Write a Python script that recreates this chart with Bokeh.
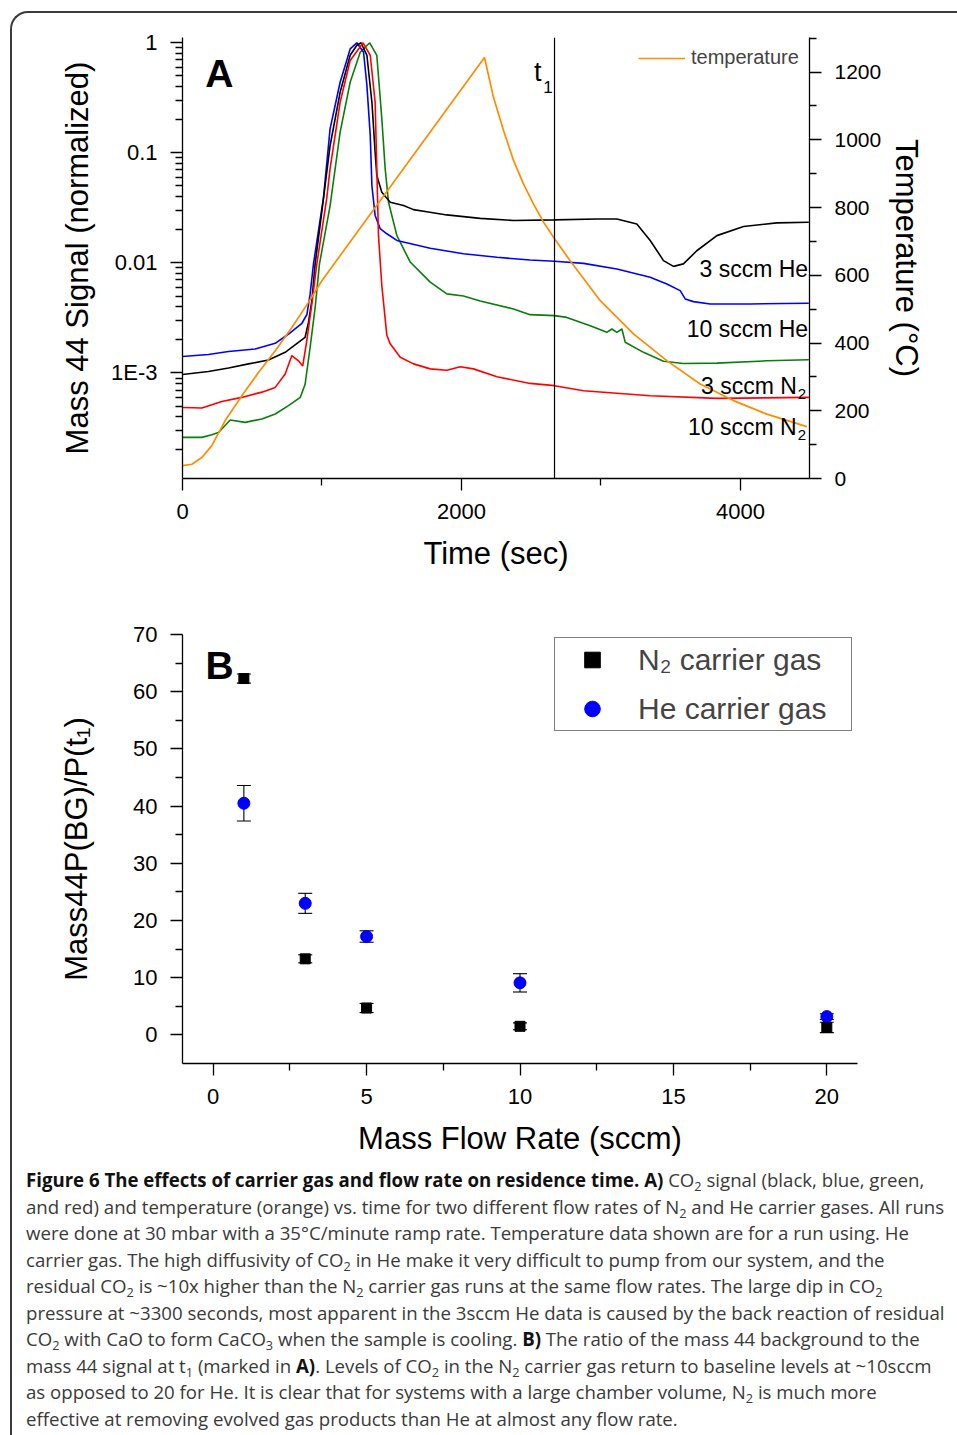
from bokeh.plotting import figure
from bokeh.models import (Range1d, LinearScale, LinearAxis, FixedTicker, Span, Label,
                          Legend, LegendItem, Whisker, TeeHead, ColumnDataSource, Div)
from bokeh.layouts import column
from bokeh.embed import file_html
from bokeh.resources import INLINE

# ---------------- Panel A data ----------------
# 3 sccm He (black)
time_he3 = [0, 186, 330, 473, 616, 736, 831, 879, 903, 927, 951, 1000, 1058, 1130, 1202, 1250,
            1280, 1322, 1358, 1381, 1393, 1429, 1489, 1584, 1656, 1751, 1895, 2134, 2373, 2667,
            2970, 3114, 3257, 3353, 3448, 3520, 3591, 3687, 3831, 4022, 4261, 4490]
sig_he3 = [9.7e-4, 1.03e-3, 1.11e-3, 1.21e-3, 1.31e-3, 1.54e-3, 1.90e-3, 2.11e-3, 2.88e-3, 4.5e-3,
           9.8e-3, 0.030, 0.116, 0.355, 0.77, 0.95, 1.0, 0.77, 0.288, 0.101, 0.0623, 0.0439,
           0.0356, 0.0332, 0.0305, 0.0292, 0.0273, 0.0254, 0.0243, 0.0246, 0.0251, 0.0251, 0.0226,
           0.016, 0.0105, 0.0093, 0.0098, 0.0129, 0.0177, 0.0214, 0.0231, 0.0234]
# 10 sccm He (blue)
time_he10 = [0, 186, 330, 521, 665, 760, 856, 892, 915, 939, 1011, 1058, 1130, 1202, 1250, 1298,
             1322, 1346, 1358, 1381, 1417, 1465, 1537, 1776, 2014, 2254, 2492, 2667, 2875, 3114,
             3353, 3472, 3568, 3604, 3663, 3783, 4070, 4490]
sig_he10 = [1.41e-3, 1.47e-3, 1.57e-3, 1.65e-3, 1.86e-3, 2.26e-3, 2.83e-3, 3.4e-3, 5.2e-3, 9.8e-3,
            0.0395, 0.165, 0.438, 0.88, 1.0, 0.82, 0.41, 0.144, 0.05, 0.027, 0.0205, 0.0184,
            0.016, 0.0136, 0.0121, 0.01125, 0.01064, 0.01035, 0.0099, 0.0088, 0.0074, 0.00644,
            0.0056, 0.00471, 0.00445, 0.00424, 0.00424, 0.0043]
# 3 sccm N2 (green)
time_n3 = [0, 139, 210, 258, 342, 449, 569, 665, 760, 844, 879, 915, 951, 982, 1058, 1130, 1202,
           1274, 1342, 1393, 1429, 1453, 1477, 1537, 1632, 1776, 1895, 2014, 2134, 2373, 2492,
           2667, 2755, 2923, 3042, 3078, 3114, 3150, 3174, 3305, 3448, 3591, 3831, 4189, 4490]
sig_n3 = [2.6e-4, 2.6e-4, 2.75e-4, 2.88e-4, 3.74e-4, 3.56e-4, 3.82e-4, 4.24e-4, 5.05e-4, 6.0e-4,
          7.9e-4, 1.71e-3, 3.95e-3, 9.8e-3, 0.033, 0.154, 0.438, 0.82, 1.0, 0.77, 0.204, 0.0717,
          0.0356, 0.0177, 0.0102, 0.0067, 0.00523, 0.0050, 0.0045, 0.00382, 0.00339, 0.00332,
          0.0032, 0.00269, 0.00234, 0.00251, 0.00234, 0.00251, 0.0019, 0.00154, 0.00128,
          0.00122, 0.00123, 0.00129, 0.00132]
# 10 sccm N2 (red)
time_n10 = [0, 139, 282, 425, 569, 665, 736, 784, 831, 862, 891, 927, 963, 1035, 1058, 1130, 1202,
            1295, 1346, 1381, 1393, 1405, 1429, 1465, 1489, 1561, 1656, 1776, 1895, 1991, 2086,
            2254, 2492, 2667, 2875, 3353, 3831, 4490]
sig_n10 = [4.86e-4, 4.8e-4, 5.5e-4, 6.0e-4, 6.7e-4, 7.4e-4, 9.8e-4, 1.44e-3, 1.29e-3, 1.16e-3,
           1.97e-3, 4.2e-3, 9.8e-3, 0.0395, 0.072, 0.288, 0.69, 1.0, 0.77, 0.288, 0.0717, 0.0177,
           0.0062, 0.0022, 0.00184, 0.00139, 0.00121, 0.00109, 0.00106, 0.00114, 0.00109,
           9.25e-4, 8.04e-4, 7.67e-4, 6.9e-4, 6.22e-4, 5.88e-4, 6.0e-4]
# temperature (orange, right axis)
temp_time = [0, 67, 139, 210, 306, 425, 545, 665, 784, 903, 999, 2165, 2229, 2301, 2373, 2444,
             2516, 2588, 2672, 2779, 2995, 3233, 3472, 3711, 3950, 4189, 4476]
temp_c = [38, 42, 62, 97, 171, 244, 313, 377, 446, 520, 584, 1243, 1126, 1028, 939, 870, 811,
          757, 705, 643, 525, 427, 348, 279, 230, 190, 153]
t1_time = 2667

log_major = [1e-3, 1e-2, 1e-1, 1]
log_labels = ["1E-3", "0.01", "0.1", "1"]
temp_major = [0, 200, 400, 600, 800, 1000, 1200]
time_major = [0, 2000, 4000]
time_minor = [1000, 3000]

# ---------------- Panel B data ----------------
flow_n2 = [1, 3, 5, 10, 20]
ratio_n2 = [62.3, 13.3, 4.7, 1.5, 1.3]
err_n2 = [0.8, 0.7, 0.8, 0.6, 0.9]
flow_he = [1, 3, 5, 10, 20]
ratio_he = [40.5, 23.0, 17.2, 9.1, 3.2]
err_he = [3.1, 1.75, 1.0, 1.6, 0.5]
flow_major = [0, 5, 10, 15, 20]
flow_minor = [2.5, 7.5, 12.5, 17.5]
ratio_major = [0, 10, 20, 30, 40, 50, 60, 70]
ratio_minor = [5, 15, 25, 35, 45, 55, 65]

FONT = "Liberation Sans"


def style_axis(ax, label_standoff=13, title_standoff=12, tick_px="22px", title_px="31px"):
    ax.axis_line_color = "black"
    ax.axis_line_width = 1.3
    ax.major_tick_line_color = "black"
    ax.major_tick_line_width = 1.3
    ax.minor_tick_line_color = "black"
    ax.minor_tick_line_width = 1.3
    ax.major_tick_in = 0
    ax.major_tick_out = 12
    ax.minor_tick_in = 0
    ax.minor_tick_out = 7
    ax.major_label_text_font = FONT
    ax.major_label_text_font_size = tick_px
    ax.major_label_text_color = "black"
    ax.major_label_standoff = label_standoff
    ax.axis_label_text_font = FONT
    ax.axis_label_text_font_size = title_px
    ax.axis_label_text_font_style = "normal"
    ax.axis_label_text_color = "black"
    ax.axis_label_standoff = title_standoff


# ================= Panel A =================
pA = figure(width=945, height=587, output_backend="svg", toolbar_location=None,
            x_range=Range1d(0, 4495), y_range=Range1d(1.10e-4, 1.117), y_axis_type="log",
            min_border_left=170, min_border_right=148, min_border_top=24, min_border_bottom=122,
            frame_align=False)
pA.outline_line_color = None
pA.grid.visible = False
pA.border_fill_alpha = 0
pA.background_fill_alpha = 0
pA.extra_y_ranges = {"temp": Range1d(0, 1302)}
pA.extra_y_scales = {"temp": LinearScale()}

minor_log = [k * 10.0 ** e for e in range(-4, 1) for k in range(2, 10)]
minor_log = [m for m in minor_log if 1.1e-4 < m < 1.117]
yA = pA.yaxis[0]
yA.ticker = FixedTicker(ticks=log_major, minor_ticks=minor_log)
yA.major_label_overrides = {v: s for v, s in zip(log_major, log_labels)}
yA.axis_label = "Mass 44 Signal (normalized)"
style_axis(yA, title_standoff=13)

xA = pA.xaxis[0]
xA.ticker = FixedTicker(ticks=time_major, minor_ticks=time_minor)
xA.axis_label = "Time (sec)"
style_axis(xA, title_standoff=14)

rA = LinearAxis(y_range_name="temp", axis_label="Temperature (\u00b0C)")
rA.ticker = FixedTicker(ticks=temp_major, minor_ticks=[t + 100 for t in temp_major])
style_axis(rA, tick_px="21px", title_standoff=5)
pA.add_layout(rA, "right")

pA.line(time_n3, sig_n3, line_color="#0a7d0a", line_width=1.6)
pA.line(time_he10, sig_he10, line_color="#0000ff", line_width=1.6)
pA.line(time_he3, sig_he3, line_color="black", line_width=1.6)
pA.line(time_n10, sig_n10, line_color="#ff0000", line_width=1.6)
r_temp = pA.line(temp_time, temp_c, y_range_name="temp", line_color="#ff8c00", line_width=1.7)

pA.add_layout(Span(location=t1_time, dimension="height", line_color="black", line_width=1.2))

legA = Legend(items=[LegendItem(label="temperature", renderers=[r_temp])],
              location=(456, 409), glyph_width=47, glyph_height=20, label_height=20,
              label_standoff=6, padding=0, margin=0, border_line_alpha=0,
              background_fill_alpha=0, label_text_font=FONT, label_text_font_size="20px")
pA.add_layout(legA)


def lab(p, x, y, text, size, align="left", bold=False):
    p.add_layout(Label(x=x, y=y, text=text, text_font=FONT, text_font_size=size,
                       text_align=align, text_baseline="alphabetic",
                       text_font_style="bold" if bold else "normal", text_color="black"))


lab(pA, 163, 0.526, "A", "39px", bold=True)
lab(pA, 2520, 0.54, "t", "27px")
lab(pA, 2586, 0.40, "1", "17px")
lab(pA, 4485, 0.00888, "3 sccm He", "23px", align="right")
lab(pA, 4485, 0.00253, "10 sccm He", "23px", align="right")
lab(pA, 4404, 7.67e-4, "3 sccm N", "23px", align="right")
lab(pA, 4410, 6.48e-4, "2", "15px")
lab(pA, 4403, 3.21e-4, "10 sccm N", "23px", align="right")
lab(pA, 4410, 2.75e-4, "2", "15px")

# ================= Panel B =================
pB = figure(width=945, height=560, output_backend="svg", toolbar_location=None,
            x_range=Range1d(-1, 21), y_range=Range1d(-5, 70),
            min_border_left=170, min_border_right=100, min_border_top=34, min_border_bottom=97,
            frame_align=False)
pB.outline_line_color = None
pB.grid.visible = False
pB.border_fill_alpha = 0
pB.background_fill_alpha = 0

xB = pB.xaxis[0]
xB.ticker = FixedTicker(ticks=flow_major, minor_ticks=flow_minor)
xB.axis_label = "Mass Flow Rate (sccm)"
style_axis(xB, title_standoff=14)
yB = pB.yaxis[0]
yB.ticker = FixedTicker(ticks=ratio_major, minor_ticks=ratio_minor)
yB.axis_label = "Mass44P(BG)/P(t\u2081)"
style_axis(yB, title_standoff=36)

r_he = pB.scatter(flow_he, ratio_he, marker="circle", size=12, color="#0000ff")
r_n2 = pB.scatter(flow_n2, ratio_n2, marker="square", size=10, color="black")

for fx, fy, fe in ((flow_he, ratio_he, err_he), (flow_n2, ratio_n2, err_n2)):
    src = ColumnDataSource(dict(x=fx, upper=[a + b for a, b in zip(fy, fe)],
                                lower=[a - b for a, b in zip(fy, fe)]))
    pB.add_layout(Whisker(source=src, base="x", upper="upper", lower="lower",
                          line_color="black", line_width=1.1,
                          upper_head=TeeHead(size=14, line_color="black", line_width=1.1),
                          lower_head=TeeHead(size=14, line_color="black", line_width=1.1)))

legB = Legend(items=[LegendItem(label="N\u2082 carrier gas", renderers=[r_n2]),
                     LegendItem(label="He carrier gas", renderers=[r_he])],
              location=(372, 332), glyph_width=70, glyph_height=39, label_height=39,
              label_width=211, label_standoff=11, spacing=10, padding=2, margin=0,
              border_line_color="black", border_line_width=1.2, background_fill_color="white",
              label_text_font=FONT, label_text_font_size="30px")
pB.add_layout(legB)

lab(pB, -0.25, 64.6, "B", "39px", bold=True)

# ================= Caption =================
def sub(s):
    return f'<span style="font-size:13px;position:relative;top:4px;line-height:0">{s}</span>'


lines = [
    f'<b style="color:#111">Figure 6 The effects of carrier gas and flow rate on residence time. A)</b> CO{sub("2")} signal (black, blue, green,',
    f'and red) and temperature (orange) vs. time for two different flow rates of N{sub("2")} and He carrier gases. All runs',
    'were done at 30 mbar with a 35\u00b0C/minute ramp rate. Temperature data shown are for a run using. He',
    f'carrier gas. The high diffusivity of CO{sub("2")} in He make it very difficult to pump from our system, and the',
    f'residual CO{sub("2")} is ~10x higher than the N{sub("2")} carrier gas runs at the same flow rates. The large dip in CO{sub("2")}',
    'pressure at ~3300 seconds, most apparent in the 3sccm He data is caused by the back reaction of residual',
    f'CO{sub("2")} with CaO to form CaCO{sub("3")} when the sample is cooling. <b style="color:#111">B)</b> The ratio of the mass 44 background to the',
    f'mass 44 signal at t{sub("1")} (marked in <b style="color:#111">A)</b>. Levels of CO{sub("2")} in the N{sub("2")} carrier gas return to baseline levels at ~10sccm',
    f'as opposed to 20 for He. It is clear that for systems with a large chamber volume, N{sub("2")} is much more',
    'effective at removing evolved gas products than He at almost any flow rate.',
]
line_divs = "".join(
    f'<div style="height:26.5px;line-height:26.5px;white-space:nowrap">{ln}</div>' for ln in lines)
cap_html = ('<div style="padding-left:9px;padding-top:2px">'
            '<div style="font-family:\'Open Sans\';font-size:19px;color:#3a3a3a;'
            'transform:scaleX(0.98);transform-origin:0 0">'
            + line_divs + '</div></div>')
cap = Div(text=cap_html, width=945, height=275)

root = column(pA, pB, cap, spacing=0,
              styles={"margin-left": "10px", "margin-top": "11px",
                      "border-left": "2px solid #3b3b3b", "border-top": "2px solid #3b3b3b",
                      "border-top-left-radius": "18px"})

open("out.html", "w").write(file_html(root, INLINE))
